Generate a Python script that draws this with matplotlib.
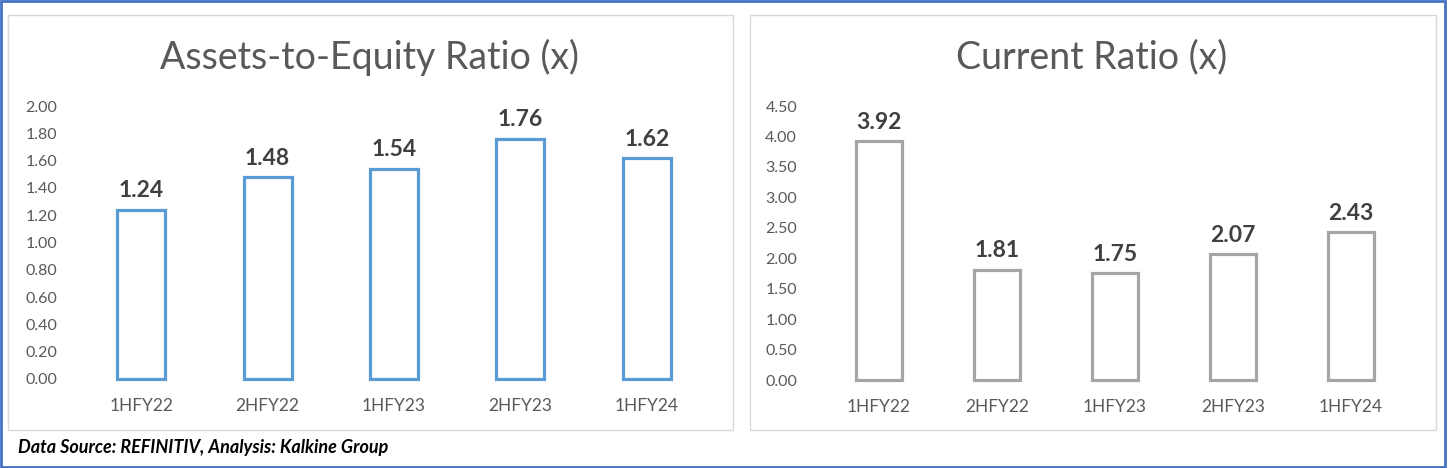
import matplotlib.pyplot as plt
from matplotlib.patches import Rectangle

plt.rcParams["font.family"] = ["Lato", "DejaVu Sans"]

periods = ["1HFY22", "2HFY22", "1HFY23", "2HFY23", "1HFY24"]
assets_equity = [1.24, 1.48, 1.54, 1.76, 1.62]
current_ratio = [3.92, 1.81, 1.75, 2.07, 2.43]
ae_ticks = [0.0, 0.2, 0.4, 0.6, 0.8, 1.0, 1.2, 1.4, 1.6, 1.8, 2.0]
cr_ticks = [0.0, 0.5, 1.0, 1.5, 2.0, 2.5, 3.0, 3.5, 4.0, 4.5]

W, H = 1448, 468
fig = plt.figure(figsize=(W / 100, H / 100), dpi=100)

def px(x0, y0, x1, y1):
    # pixel box (top-left origin) -> figure fraction rect
    return [x0 / W, 1 - y1 / H, (x1 - x0) / W, (y1 - y0) / H]

# outer border and panel boxes
fig.patches.append(Rectangle((0.001, 0.002), 0.997, 0.995, transform=fig.transFigure,
                             fill=False, edgecolor="#4472C4", linewidth=2))
for x0, x1 in [(8, 733), (750, 1436)]:
    r = px(x0, 15, x1, 430)
    fig.patches.append(Rectangle((r[0], r[1]), r[2], r[3], transform=fig.transFigure,
                                 fill=False, edgecolor="#D9D9D9", linewidth=1))

def panel(rect, values, ticks, color, title, title_x, width, tick_pad):
    ax = fig.add_axes(rect)
    xs = range(len(values))
    bars = ax.bar(xs, values, width=width, facecolor="white", edgecolor=color, linewidth=2.3)
    for b in bars:
        b.set_clip_on(False)
    ax.set_xlim(-0.5, len(values) - 0.5)
    ax.set_ylim(ticks[0], ticks[-1])
    ax.set_yticks(ticks)
    ax.set_yticklabels([f"{t:.2f}" for t in ticks])
    ax.set_xticks(list(xs))
    ax.set_xticklabels(periods)
    ax.tick_params(length=0, colors="#595959")
    ax.tick_params(axis="y", pad=tick_pad, labelsize=11.5)
    ax.tick_params(axis="x", pad=14, labelsize=12.5)
    for s in ax.spines.values():
        s.set_visible(False)
    for x, v in zip(xs, values):
        ax.annotate(f"{v:.2f}", (x, v), xytext=(0, 6), textcoords="offset points",
                    ha="center", va="bottom", fontsize=16.5, fontweight="bold", color="#404040")
    fig.text(title_x / W, 1 - 57 / H, title, ha="center", va="center",
             fontsize=27, color="#595959")
    return ax

panel(px(78, 106, 710, 379), assets_equity, ae_ticks, "#5B9BD5",
      "Assets-to-Equity Ratio (x)", 370, 0.38, 15)
panel(px(820, 106, 1410, 380), current_ratio, cr_ticks, "#A5A5A5",
      "Current Ratio (x)", 1092, 0.39, 16.5)

fig.text(18 / W, 1 - 447 / H, "Data Source: REFINITIV, Analysis: Kalkine Group",
         ha="left", va="center", fontsize=13, fontweight="bold", fontstyle="italic", color="black")

fig.savefig("out.png", dpi=100)
